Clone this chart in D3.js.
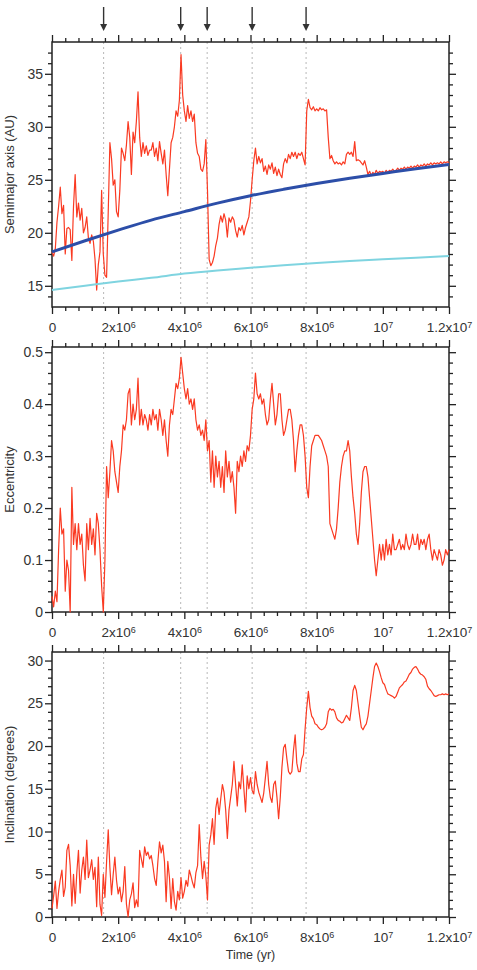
<!DOCTYPE html>
<html><head><meta charset="utf-8">
<script src="https://cdn.jsdelivr.net/npm/d3@7"></script>
<style>
body{margin:0;background:#fff}
svg{display:block}
text{font-family:"Liberation Sans",Arial,sans-serif;fill:#333}
</style>
</head><body>
<svg id="chart" width="477" height="970"></svg>
<script>
// ---------- data ----------
const timeStep = 5e4; // yr between samples of the red series
const eventTimes = [1.56e6, 3.89e6, 4.69e6, 6.05e6, 7.68e6];
const xTicks = [0, 2e6, 4e6, 6e6, 8e6, 1e7, 1.2e7];
const xTickLabels = [["0",""],["2x10","6"],["4x10","6"],["6x10","6"],["8x10","6"],["10","7"],["1.2x10","7"]];
const semiTicks = [15, 20, 25, 30, 35];
const eccTicks = [0, 0.1, 0.2, 0.3, 0.4, 0.5];
const incTicks = [0, 5, 10, 15, 20, 25, 30];

const semiRed = [
18.2,17.8,18.5,21.0,22.5,24.3,21.8,22.6,18.0,20.4,20.5,20.3,17.4,22.5,25.5,21.5,22.8,21.2,22.3,20.0,
20.5,21.5,19.5,19.0,19.8,19.2,17.5,14.6,17.0,18.2,24.0,18.0,16.0,15.8,22.0,28.5,27.0,24.5,25.0,22.0,
21.5,24.0,28.0,27.5,26.8,28.3,30.5,29.0,25.5,29.5,28.5,30.5,33.3,29.0,27.2,28.5,27.5,28.2,27.3,27.8,
27.8,28.5,27.2,28.0,26.8,28.6,27.5,26.5,27.8,25.5,23.5,26.0,28.5,29.0,30.0,31.5,31.0,32.5,36.8,33.0,
31.5,30.5,32.0,30.8,31.5,30.5,31.2,28.5,27.5,27.2,26.0,25.8,26.5,28.8,24.0,17.5,16.9,17.2,17.8,18.8,
19.5,20.8,21.6,21.0,21.8,21.2,19.6,21.4,21.0,21.5,21.2,20.2,19.6,20.5,20.2,20.7,19.8,20.5,21.0,21.5,
23.0,25.0,26.8,28.0,26.5,27.2,26.6,27.0,25.8,26.3,25.5,26.4,26.0,26.6,25.6,26.2,25.4,26.0,25.5,25.2,
26.5,27.0,26.6,27.4,27.0,27.6,27.2,27.6,27.0,27.5,27.3,27.6,27.0,26.4,31.5,32.6,31.8,31.6,31.9,31.5,
31.7,31.5,31.8,31.6,31.7,31.5,31.6,29.0,27.0,27.3,26.8,26.5,26.7,26.5,26.6,26.4,26.7,26.5,27.4,27.6,
27.4,27.6,27.2,28.6,26.8,26.9,26.8,26.6,26.4,26.8,26.2,25.5,25.8,25.4,25.7,25.5,25.9,25.6,25.8,25.7,
25.8,25.6,25.9,25.7,25.9,25.8,26.0,25.8,25.9,26.1,25.9,26.1,26.0,26.2,26.0,26.2,26.1,26.3,26.1,26.3,
26.2,26.4,26.2,26.4,26.3,26.5,26.3,26.5,26.4,26.6,26.4,26.6,26.5,26.6,26.5,26.7,26.5,26.7,26.6,26.7,26.6
];

const smoothTimes = [0,1e6,2e6,3e6,4e6,5e6,6e6,7e6,8e6,9e6,1e7,1.1e7,1.2e7];
const semiBlue = [18.2,19.25,20.25,21.2,22.0,22.8,23.5,24.1,24.65,25.15,25.6,26.05,26.45];
const semiCyan = [14.6,15.0,15.4,15.75,16.15,16.45,16.7,16.95,17.15,17.35,17.5,17.65,17.8];

const ecc = [
0.03,0.01,0.04,0.02,0.12,0.20,0.15,0.16,0.04,0.10,0.08,0.00,0.24,0.13,0.17,0.12,0.17,0.13,0.15,0.09,
0.06,0.17,0.12,0.18,0.13,0.16,0.11,0.19,0.17,0.12,0.05,0.00,0.10,0.28,0.22,0.27,0.33,0.31,0.27,0.25,
0.23,0.28,0.31,0.36,0.35,0.37,0.42,0.43,0.36,0.40,0.37,0.39,0.45,0.36,0.39,0.36,0.38,0.37,0.35,0.38,
0.36,0.39,0.37,0.38,0.35,0.39,0.37,0.34,0.37,0.33,0.30,0.36,0.39,0.38,0.41,0.44,0.43,0.45,0.49,0.46,
0.43,0.41,0.43,0.40,0.41,0.39,0.41,0.37,0.35,0.36,0.34,0.35,0.33,0.37,0.31,0.33,0.25,0.31,0.24,0.30,
0.26,0.29,0.24,0.28,0.23,0.31,0.26,0.29,0.25,0.27,0.24,0.19,0.29,0.27,0.30,0.28,0.31,0.29,0.32,0.31,
0.34,0.39,0.41,0.46,0.42,0.41,0.42,0.40,0.41,0.38,0.36,0.37,0.41,0.44,0.40,0.36,0.38,0.42,0.42,0.37,
0.34,0.35,0.37,0.39,0.39,0.37,0.33,0.27,0.31,0.34,0.36,0.36,0.34,0.30,0.24,0.22,0.28,0.32,0.33,0.34,
0.34,0.34,0.335,0.33,0.32,0.31,0.30,0.28,0.17,0.16,0.15,0.14,0.16,0.20,0.25,0.28,0.30,0.31,0.31,0.33,
0.31,0.26,0.22,0.19,0.15,0.13,0.17,0.23,0.27,0.28,0.28,0.26,0.22,0.18,0.14,0.10,0.07,0.10,0.13,0.10,
0.13,0.10,0.14,0.11,0.13,0.11,0.15,0.12,0.12,0.13,0.14,0.12,0.13,0.12,0.15,0.13,0.12,0.13,0.15,0.13,
0.13,0.15,0.12,0.14,0.13,0.14,0.12,0.14,0.15,0.12,0.10,0.12,0.11,0.10,0.12,0.11,0.09,0.10,0.12,0.11,0.12
];

const inc = [
1.0,2.5,4.2,1.0,3.0,4.4,5.5,2.4,3.5,7.8,8.5,6.0,1.3,5.0,1.6,5.2,7.8,2.8,5.5,7.0,
4.4,9.0,4.6,5.5,6.7,4.4,5.8,1.2,7.0,1.5,0.2,5.0,2.3,6.5,10.2,5.8,2.6,5.0,7.0,4.3,
2.7,3.5,1.8,3.0,5.9,1.5,0.0,2.0,2.7,4.0,1.1,2.0,1.2,7.8,6.8,5.8,8.2,7.2,7.6,6.8,
7.2,6.0,4.5,3.7,6.5,8.8,7.5,8.4,6.5,1.8,6.5,4.6,1.0,4.5,1.8,0.8,3.0,2.0,4.6,2.2,
3.0,4.3,3.6,5.5,4.8,4.0,3.4,5.2,6.0,10.8,7.0,4.5,6.5,4.8,2.0,8.4,9.6,11.5,8.5,12.7,
13.9,12.0,13.8,15.5,14.6,12.5,9.2,12.5,14.0,15.5,18.2,15.5,13.0,15.8,15.0,17.8,15.0,12.3,16.5,15.0,
16.3,14.8,14.4,17.0,15.5,14.6,14.0,13.4,14.5,16.3,18.2,15.5,14.0,13.4,15.5,15.9,14.0,11.5,14.0,17.5,
19.8,20.2,18.5,17.0,16.7,17.0,19.5,21.3,18.0,17.0,17.0,18.5,19.0,22.0,24.5,26.4,24.5,23.5,23.2,22.6,
22.5,22.2,22.0,21.9,22.0,22.2,22.6,24.0,24.4,24.2,24.3,24.0,23.3,23.0,22.9,22.7,22.8,23.2,23.6,23.3,
23.0,24.5,26.5,27.1,26.5,25.0,23.5,22.2,21.9,22.3,22.6,23.5,25.0,26.5,28.0,29.3,29.7,29.3,28.7,28.0,
27.4,27.2,26.6,26.1,26.0,25.9,25.8,25.6,25.8,26.3,26.8,27.0,27.2,27.5,27.6,28.0,28.4,28.6,29.0,29.2,
29.3,29.0,28.6,28.4,28.3,28.1,27.8,27.0,26.7,26.5,26.2,25.9,25.8,25.9,26.0,26.0,26.1,26.0,26.1,26.0,26.1
];

// ---------- drawing ----------
const svg = d3.select("#chart");
const X0 = 52, X1 = 449;
const x = d3.scaleLinear().domain([0, 1.2e7]).range([X0, X1]);
const xMinor = d3.range(0, 1.2e7 + 1, 4e5).filter(v => !xTicks.includes(v));
const RED = "#fa3a22";

const panels = [
  {top: 42, bottom: 307, domain: [13, 38], ticks: semiTicks, minorStep: 1, title: "Semimajor axis (AU)", fmt: d3.format("d")},
  {top: 347, bottom: 612, domain: [0, 0.51], ticks: eccTicks, minorStep: 0.02, title: "Eccentricity", fmt: d => d === 0 ? "0" : d3.format(".1f")(d)},
  {top: 652, bottom: 917, domain: [0, 31], ticks: incTicks, minorStep: 1, title: "Inclination (degrees)", fmt: d3.format("d")}
];

function styleAxis(g) {
  g.select(".domain").remove();
  g.selectAll(".tick line").attr("stroke", "#222").attr("stroke-width", 1.3);
}

panels.forEach((p, pi) => {
  const y = d3.scaleLinear().domain(p.domain).range([p.bottom, p.top]);
  p.y = y;
  const g = svg.append("g");
  const yMinor = d3.range(Math.ceil(p.domain[0] / p.minorStep) * p.minorStep, p.domain[1] + 1e-9, p.minorStep)
    .map(v => +v.toFixed(4)).filter(v => !p.ticks.some(t => Math.abs(t - v) < 1e-6) && v > p.domain[0] && v < p.domain[1]);

  // event dotted lines
  g.selectAll("line.ev").data(eventTimes).join("line")
    .attr("x1", d => x(d)).attr("x2", d => x(d))
    .attr("y1", p.top).attr("y2", p.bottom)
    .attr("stroke", "#b8b8b8").attr("stroke-width", 1).attr("stroke-dasharray", "2,3");

  // minor ticks
  g.append("g").attr("transform", `translate(0,${p.top})`).call(d3.axisTop(x).tickValues(xMinor).tickSize(4).tickFormat("")).call(styleAxis);
  g.append("g").attr("transform", `translate(0,${p.bottom})`).call(d3.axisBottom(x).tickValues(xMinor).tickSize(4).tickFormat("")).call(styleAxis);
  g.append("g").attr("transform", `translate(${X0},0)`).call(d3.axisLeft(y).tickValues(yMinor).tickSize(4).tickFormat("")).call(styleAxis);
  g.append("g").attr("transform", `translate(${X1},0)`).call(d3.axisRight(y).tickValues(yMinor).tickSize(4).tickFormat("")).call(styleAxis);
  // major ticks
  g.append("g").attr("transform", `translate(0,${p.top})`).call(d3.axisTop(x).tickValues(xTicks).tickSize(7).tickFormat("")).call(styleAxis);
  g.append("g").attr("transform", `translate(${X1},0)`).call(d3.axisRight(y).tickValues(p.ticks).tickSize(7).tickFormat("")).call(styleAxis);
  const gb = g.append("g").attr("transform", `translate(0,${p.bottom})`)
    .call(d3.axisBottom(x).tickValues(xTicks).tickSize(7).tickPadding(8).tickFormat((d, i) => xTickLabels[i][0]))
    .call(styleAxis);
  gb.selectAll(".tick text").attr("font-size", 13.5).attr("fill", "#333")
    .each(function(d, i) {
      const sup = xTickLabels[i][1];
      if (sup) d3.select(this).append("tspan").attr("dy", "-0.45em").attr("font-size", 9).text(sup);
    });
  const gl = g.append("g").attr("transform", `translate(${X0},0)`)
    .call(d3.axisLeft(y).tickValues(p.ticks).tickSize(7).tickPadding(2).tickFormat(p.fmt))
    .call(styleAxis);
  gl.selectAll(".tick text").attr("font-size", 14).attr("fill", "#333");

  // frame
  g.append("rect").attr("x", X0).attr("y", p.top).attr("width", X1 - X0).attr("height", p.bottom - p.top)
    .attr("fill", "none").attr("stroke", "#222").attr("stroke-width", 1.5);

  // y title
  g.append("text").attr("transform", `translate(14,${(p.top + p.bottom) / 2}) rotate(-90)`)
    .attr("text-anchor", "middle").attr("font-size", 13).attr("fill", "#333").text(p.title);
});

// series
const lineRed = (arr, y) => d3.line().x((d, i) => x(i * timeStep)).y(d => y(d))(arr);
const lineSmooth = (arr, y) => d3.line().curve(d3.curveMonotoneX).x((d, i) => x(smoothTimes[i])).y(d => y(d))(arr);

svg.append("path").attr("d", lineRed(semiRed, panels[0].y)).attr("fill", "none").attr("stroke", RED).attr("stroke-width", 1.2).attr("stroke-linejoin", "round");
svg.append("path").attr("d", lineSmooth(semiCyan, panels[0].y)).attr("fill", "none").attr("stroke", "#7fd4e0").attr("stroke-width", 2);
svg.append("path").attr("d", lineSmooth(semiBlue, panels[0].y)).attr("fill", "none").attr("stroke", "#2c4ea8").attr("stroke-width", 3);
svg.append("path").attr("d", lineRed(ecc, panels[1].y)).attr("fill", "none").attr("stroke", RED).attr("stroke-width", 1.2).attr("stroke-linejoin", "round");
svg.append("path").attr("d", lineRed(inc, panels[2].y)).attr("fill", "none").attr("stroke", RED).attr("stroke-width", 1.2).attr("stroke-linejoin", "round");

// arrows above top panel
const ag = svg.append("g");
eventTimes.forEach(t => {
  ag.append("line").attr("x1", x(t)).attr("x2", x(t)).attr("y1", 7).attr("y2", 26)
    .attr("stroke", "#333").attr("stroke-width", 1.4);
  ag.append("path").attr("d", `M${x(t) - 3.5},${24} L${x(t) + 3.5},${24} L${x(t)},${31} Z`).attr("fill", "#333");
});

// x title
svg.append("text").attr("x", (X0 + X1) / 2).attr("y", 959).attr("text-anchor", "middle")
  .attr("font-size", 12.5).attr("fill", "#333").text("Time (yr)");
</script>
</body></html>
